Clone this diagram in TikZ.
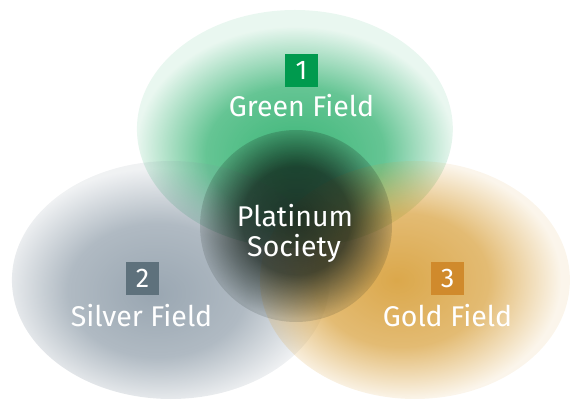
\documentclass[tikz,border=0pt]{standalone}
\usepackage{fontspec}
\setmainfont{Fira Sans}
\usetikzlibrary{fadings}
\definecolor{greenc}{RGB}{35,172,102}
\definecolor{silverc}{RGB}{128,144,158}
\definecolor{goldc}{RGB}{215,158,55}
\definecolor{darkc}{RGB}{18,30,24}
\definecolor{box1}{RGB}{0,154,78}
\definecolor{box2}{RGB}{94,113,124}
\definecolor{box3}{RGB}{208,138,44}
\pgfdeclareradialshading{shG}{\pgfpoint{0bp}{-7bp}}{color(0bp)=(white!90!black); color(14bp)=(white!70!black); color(25bp)=(white!10!black); color(50bp)=(white!10!black)}
\pgfdeclareradialshading{shS}{\pgfpoint{-3bp}{-3bp}}{color(0bp)=(white!80!black); color(14bp)=(white!62!black); color(25bp)=(white!12!black); color(50bp)=(white!12!black)}
\pgfdeclareradialshading{shY}{\pgfpoint{-3bp}{0bp}}{color(0bp)=(white!90!black); color(14bp)=(white!70!black); color(25bp)=(white!10!black); color(50bp)=(white!10!black)}
\pgfdeclareradialshading{shC}{\pgfpoint{0bp}{2bp}}{color(0bp)=(white!86!black); color(14bp)=(white!74!black); color(25bp)=(white!15!black); color(50bp)=(white!15!black)}
\pgfdeclarefading{fadeG}{\pgfuseshading{shG}}
\pgfdeclarefading{fadeS}{\pgfuseshading{shS}}
\pgfdeclarefading{fadeY}{\pgfuseshading{shY}}
\pgfdeclarefading{fadeC}{\pgfuseshading{shC}}
\tikzset{
  numbox/.style={text=white, minimum size=33pt, inner sep=0pt, font=\fontsize{27}{27}\selectfont},
  lbl/.style={text=white, inner sep=0pt, anchor=base, font=\fontsize{28.5}{28.5}\selectfont},
}
\begin{document}
\begin{tikzpicture}[x=1pt, y=1pt]
\useasboundingbox (0,0) rectangle (575,399);
\fill[greenc, path fading=fadeG] (295,270) ellipse [x radius=158, y radius=119];
\fill[silverc, path fading=fadeS] (171,119) ellipse [x radius=159, y radius=119];
\fill[goldc, path fading=fadeY] (415,119) ellipse [x radius=155, y radius=119];
\fill[darkc, path fading=fadeC] (296,173) circle [radius=96];
\node[numbox, fill=box1] (n1) at (301.5,328.5) {1};
\node[lbl] (t1) at (301.5,282) {Green Field};
\node[numbox, fill=box2] (n2) at (142.5,120.5) {2};
\node[lbl] (t2) at (141.5,73) {Silver Field};
\node[numbox, fill=box3] (n3) at (447.5,120.5) {3};
\node[lbl] (t3) at (447.5,73) {Gold Field};
\node[lbl] (p1) at (295,172) {Platinum};
\node[lbl] (p2) at (294,142) {Society};
\end{tikzpicture}
\end{document}
